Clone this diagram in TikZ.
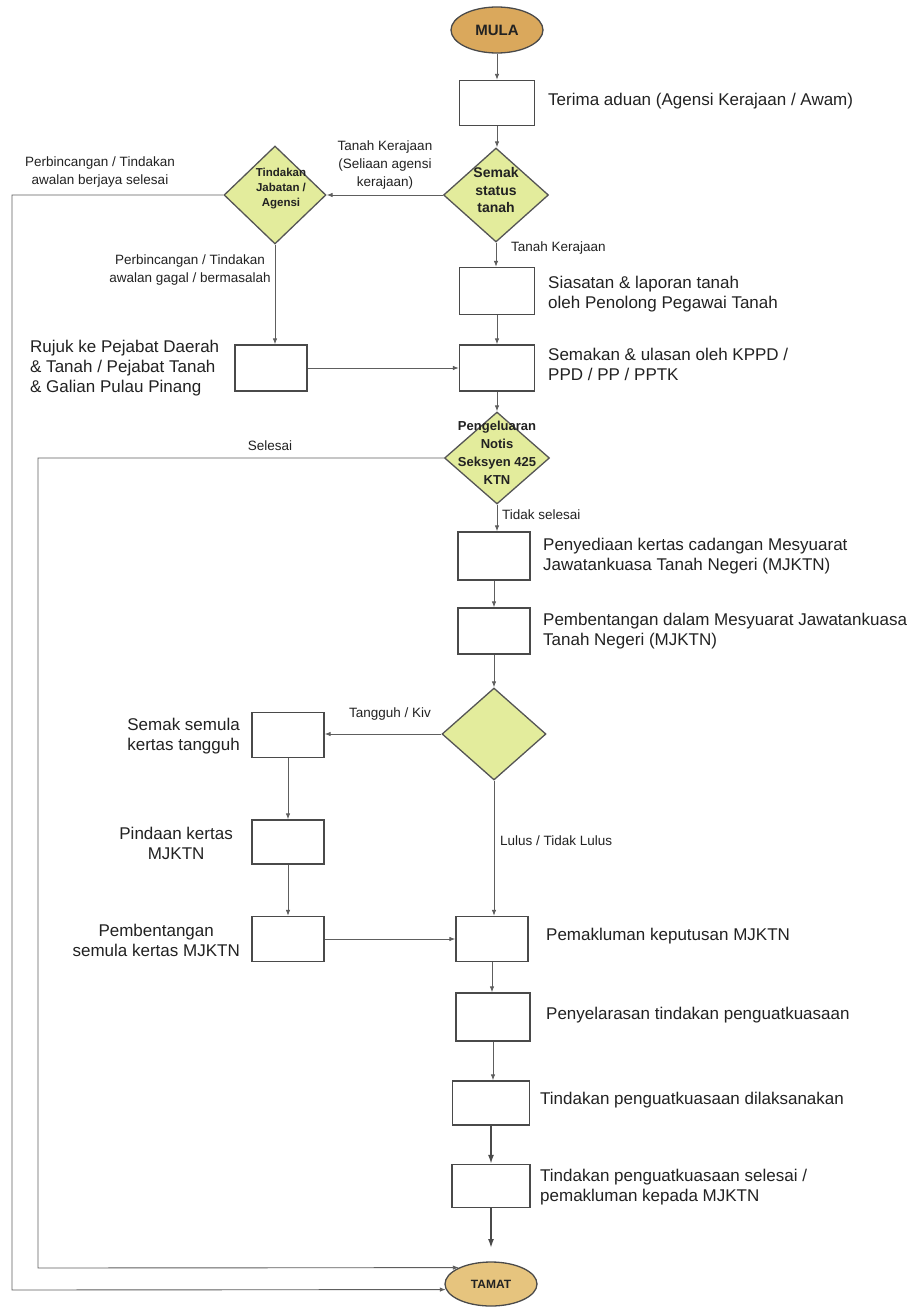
\documentclass[tikz,border=0pt]{standalone}
\usepackage{fontspec}
\setmainfont{Liberation Sans}
\usetikzlibrary{shapes.geometric,arrows.meta}
\definecolor{lin}{HTML}{5E5E5E}
\definecolor{boxc}{HTML}{4A4A4A}
\definecolor{diaf}{HTML}{E3EC9C}
\definecolor{diac}{HTML}{555555}
\definecolor{mulaf}{HTML}{DAA85C}
\definecolor{tamatf}{HTML}{E6C47E}
\definecolor{txt}{HTML}{222222}
\begin{document}
\begin{tikzpicture}[x=1pt,y=-1pt,
  box/.style={draw=boxc, line width=1.3pt, fill=white, inner sep=0pt},
  dia/.style={diamond, draw=diac, line width=1.3pt, fill=diaf, inner sep=0pt},
  term/.style={ellipse, draw=boxc, line width=1.3pt, inner sep=0pt, font=\bfseries, text=txt},
  lbl/.style={font=\fontsize{17}{20}\selectfont, text=txt, align=left, anchor=west, inner sep=0pt},
  lblc/.style={font=\fontsize{17}{20}\selectfont, text=txt, align=center, inner sep=0pt},
  sml/.style={font=\fontsize{13.5}{18}\selectfont, text=txt, align=center, inner sep=0pt},
  dtext/.style={font=\bfseries, text=txt, align=center, inner sep=0pt},
  arr/.style={draw=lin, line width=0.9pt, -{Latex[length=6pt,width=4.5pt]}},
  thk/.style={draw=boxc, line width=1.6pt, -{Latex[length=9pt,width=6pt]}}]
\useasboundingbox[fill=white] (0,0) rectangle (921,1311);

% terminals
\node[term, fill=mulaf, minimum width=92pt, minimum height=46pt, font=\bfseries\fontsize{15}{18}\selectfont] (mula) at (497,30) {MULA};
\node[term, fill=tamatf, minimum width=92pt, minimum height=44pt, font=\bfseries\fontsize{12}{14}\selectfont] (tamat) at (491,1284) {TAMAT};

% boxes
\node[box, minimum width=75pt, minimum height=45pt] (b1) at (497,103) {};
\node[box, minimum width=75pt, minimum height=47pt] (sias) at (497,291) {};
\node[box, minimum width=75pt, minimum height=46pt] (semakan) at (497,368) {};
\node[box, minimum width=72pt, minimum height=46pt] (rujuk) at (271,368) {};
\node[box, minimum width=72pt, minimum height=48pt] (penyed) at (494,556) {};
\node[box, minimum width=72pt, minimum height=46pt] (pemben) at (494,631) {};
\node[box, minimum width=72pt, minimum height=45pt] (semula) at (288,735) {};
\node[box, minimum width=72pt, minimum height=44pt] (pindaan) at (288,842) {};
\node[box, minimum width=72pt, minimum height=45pt] (pbsemula) at (288,939) {};
\node[box, minimum width=72pt, minimum height=45pt] (pemak) at (492,939) {};
\node[box, minimum width=74pt, minimum height=48pt] (penyel) at (493,1017) {};
\node[box, minimum width=77pt, minimum height=44pt] (tlaks) at (491,1103) {};
\node[box, minimum width=78pt, minimum height=43pt] (tsel) at (491,1186) {};

% diamonds
\node[dia, minimum width=105pt, minimum height=94pt] (semak) at (496,195) {};
\node[dia, minimum width=102pt, minimum height=98pt] (tind) at (275,195) {};
\node[dia, minimum width=105pt, minimum height=92pt] (peng) at (497,458) {};
\node[dia, minimum width=104pt, minimum height=92pt] (mjk) at (494,734) {};

% diamond texts
\node[dtext, font=\bfseries\fontsize{14}{17.5}\selectfont] (semakt) at (496,190) {Semak\\status\\tanah};
\node[dtext, font=\bfseries\fontsize{11.5}{15}\selectfont] (tindt) at (281,189) {Tindakan\\Jabatan /\\Agensi};
\node[dtext, font=\bfseries\fontsize{13}{18}\selectfont] (pengt) at (497,453) {Pengeluaran\\Notis\\Seksyen 425\\KTN};

% box labels
\node[lbl] (t1) at (548,101) {Terima aduan (Agensi Kerajaan / Awam)};
\node[lbl] (t2) at (548,294) {Siasatan \& laporan tanah\\oleh Penolong Pegawai Tanah};
\node[lbl] (t3) at (548,364) {Semakan \& ulasan oleh KPPD /\\PPD / PP / PPTK};
\node[lbl] (t4) at (30,368) {Rujuk ke Pejabat Daerah\\\& Tanah / Pejabat Tanah\\\& Galian Pulau Pinang};
\node[lbl] (t5) at (543,556) {Penyediaan kertas cadangan Mesyuarat\\Jawatankuasa Tanah Negeri (MJKTN)};
\node[lbl] (t6) at (543,631) {Pembentangan dalam Mesyuarat Jawatankuasa\\Tanah Negeri (MJKTN)};
\node[lblc, anchor=east] (t7) at (240,736) {Semak semula\\kertas tangguh};
\node[lblc, anchor=east] (t8) at (233,843) {Pindaan kertas\\MJKTN};
\node[lblc, anchor=east] (t9) at (240,940) {Pembentangan\\semula kertas MJKTN};
\node[lbl] (t10) at (546,936) {Pemakluman keputusan MJKTN};
\node[lbl] (t11) at (546,1015) {Penyelarasan tindakan penguatkuasaan};
\node[lbl] (t12) at (540,1100) {Tindakan penguatkuasaan dilaksanakan};
\node[lbl] (t13) at (540,1187) {Tindakan penguatkuasaan selesai /\\pemakluman kepada MJKTN};

% connector labels
\node[sml] (l1) at (385,165) {Tanah Kerajaan\\(Seliaan agensi\\kerajaan)};
\node[sml] (l2) at (100,172) {Perbincangan / Tindakan\\awalan berjaya selesai};
\node[sml, anchor=west] (l3) at (511,248) {Tanah Kerajaan};
\node[sml] (l4) at (190,270) {Perbincangan / Tindakan\\awalan gagal / bermasalah};
\node[sml] (l5) at (270,446) {Selesai};
\node[sml, anchor=west] (l6) at (502,515) {Tidak selesai};
\node[sml] (l7) at (390,714) {Tangguh / Kiv};
\node[sml, anchor=west] (l8) at (500,841) {Lulus / Tidak Lulus};

% connectors
\draw[arr] (mula.south) -- (mula.south |- b1.north);
\draw[arr] (b1.south) -- (b1.south |- semak.north);
\draw[arr] (semak.west) -- (tind.east);
\draw[arr] (semak.south) -- (semak.south |- sias.north);
\draw[arr] (sias.south) -- (sias.south |- semakan.north);
\draw[arr] (tind.south) -- (tind.south |- rujuk.north);
\draw[arr] (rujuk.east) -- (semakan.west);
\draw[arr] (semakan.south) -- (semakan.south |- peng.north);
\draw[arr] (peng.south) -- (peng.south |- penyed.north);
\draw[arr] (penyed.south) -- (penyed.south |- pemben.north);
\draw[arr] (pemben.south) -- (pemben.south |- mjk.north);
\draw[arr] (mjk.west) -- (mjk.west -| semula.east);
\draw[arr] (mjk.south) -- (mjk.south |- pemak.north);
\draw[arr] (semula.south) -- (pindaan.north);
\draw[arr] (pindaan.south) -- (pbsemula.north);
\draw[arr] (pbsemula.east) -- (pemak.west);
\draw[arr] (pemak.south) -- (pemak.south |- penyel.north);
\draw[arr] (penyel.south) -- (penyel.south |- tlaks.north);
\draw[thk] (tlaks.south) -- (tsel.north);
\coordinate (tamtop) at (491,1248);
\draw[thk] (tsel.south) -- (tamtop);
\coordinate (o1) at (12,195);
\coordinate (o2) at (12,1290);
\draw[arr] (tind.west) -- (o1) -- (o2) -- (tamat.187.7);
\coordinate (i1) at (38,458);
\coordinate (i2) at (38,1268);
\draw[arr] (peng.west) -- (i1) -- (i2) -- (tamat.153.1);
\end{tikzpicture}
\end{document}
